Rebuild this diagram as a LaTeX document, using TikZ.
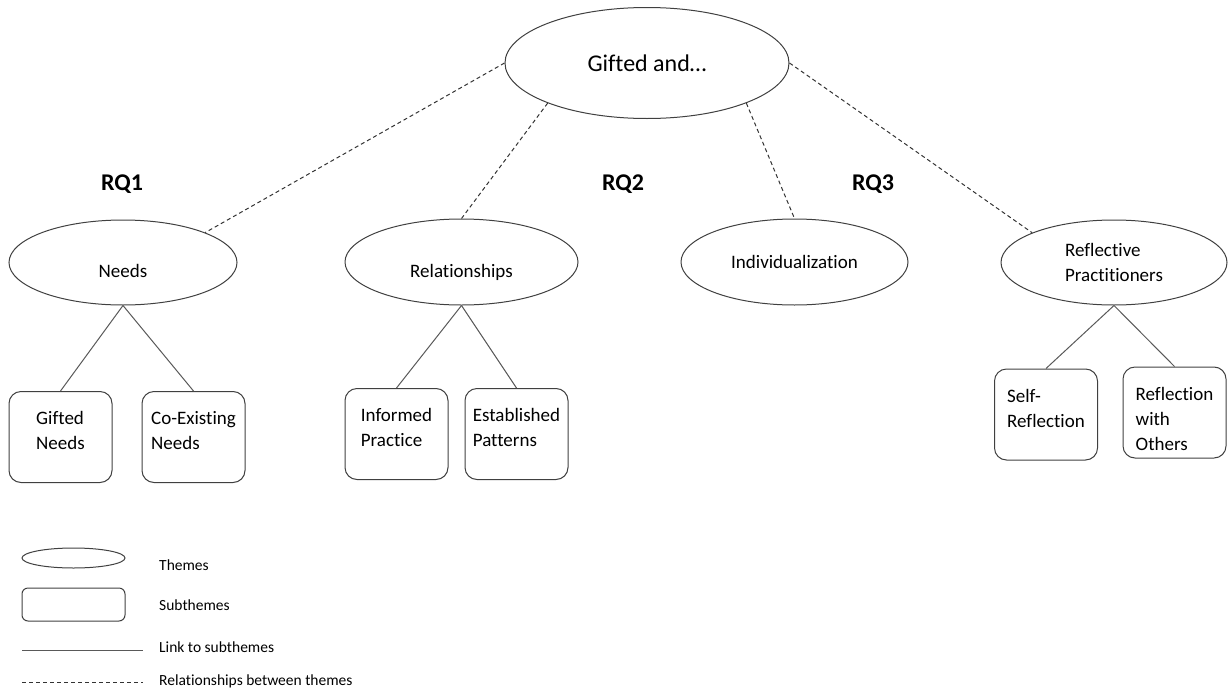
\documentclass[tikz,border=0pt]{standalone}
\usepackage{fontspec}
\setmainfont{Carlito}[Ligatures=NoCommon]
\usetikzlibrary{shapes}

\begin{document}
\begin{tikzpicture}[x=1pt,y=-1pt,
	theme/.style={ellipse,draw=black!75,line width=1pt,inner sep=2pt,font=\fontsize{19}{25}\selectfont},
	subtheme/.style={rectangle,rounded corners=12pt,draw=black!75,line width=1pt,minimum width=103pt,minimum height=91pt,inner sep=0pt,text height=33pt,text depth=58pt,font=\fontsize{19}{25}\selectfont},
	sublink/.style={draw=black!65,line width=1pt},
	themelink/.style={draw=black!80,line width=1pt,dash pattern=on 4pt off 3pt},
	rq/.style={anchor=base,font=\fontsize{24}{29}\selectfont\bfseries},
	legendtext/.style={anchor=base west,inner sep=0pt,font=\fontsize{15.5}{19}\selectfont}]
	\useasboundingbox (0,0) rectangle (1228,696);

	\node[theme,minimum width=284pt,minimum height=111pt,font=\fontsize{24}{29}\selectfont] (gifted) at (647,63) {Gifted and…};
	\node[theme,minimum width=228pt,minimum height=85pt,text height=30pt,text depth=0pt] (needs) at (123,262.5) {Needs};
	\node[theme,minimum width=233pt,minimum height=86pt,text height=30pt,text depth=0pt] (relations) at (461.5,262) {Relationships};
	\node[theme,minimum width=227pt,minimum height=86pt] (individ) at (794.5,262) {Individualization};
	\node[theme,minimum width=226pt,minimum height=85pt,align=left] (reflective) at (1114,262.5) {Reflective\\Practitioners};

	\node[rq] (rqone) at (122,190) {RQ1};
	\node[rq] (rqtwo) at (623,190) {RQ2};
	\node[rq] (rqthree) at (873,190) {RQ3};

	\node[subtheme] (giftedneeds) at (60.5,437) {\begin{tabular}[t]{@{}l@{}}Gifted\\Needs\end{tabular}};
	\node[subtheme] (coexisting) at (193.5,437) {\begin{tabular}[t]{@{}l@{}}Co-Existing\\Needs\end{tabular}};
	\node[subtheme] (informed) at (396.5,434) {\begin{tabular}[t]{@{}l@{}}Informed\\Practice\end{tabular}};
	\node[subtheme] (established) at (516.5,434) {\begin{tabular}[t]{@{}l@{}}Established\\Patterns\end{tabular}};
	\node[subtheme] (selfrefl) at (1046,414.5) {\begin{tabular}[t]{@{}l@{}}Self-\\Reflection\end{tabular}};
	\node[subtheme] (withothers) at (1174.5,412.5) {\begin{tabular}[t]{@{}l@{}}Reflection\\with\\Others\end{tabular}};

	\path[themelink]
	(gifted.west) edge (needs.20)
	(gifted.202) edge (relations.north)
	(gifted.338) edge (individ.north)
	(gifted.east) edge (reflective.160)
	;
	\path[sublink]
	(needs.south) edge (giftedneeds.north)
	(needs.south) edge (coexisting.north)
	(relations.south) edge (informed.north)
	(relations.south) edge (established.north)
	(reflective.south) edge (selfrefl.north)
	(reflective.south) edge (withothers.north)
	;

	\node[theme,minimum width=103pt,minimum height=20pt,inner sep=0pt] (legtheme) at (73.5,558) {};
	\node[subtheme,minimum height=33pt,rounded corners=6pt,text height=0pt,text depth=0pt] (legsub) at (73.5,604.5) {};
	\coordinate (legsolidA) at (22,650);
	\coordinate (legsolidB) at (143,650);
	\coordinate (legdashA) at (22,682);
	\coordinate (legdashB) at (143,682);
	\path
	(legsolidA) edge[sublink] (legsolidB)
	(legdashA) edge[themelink] (legdashB)
	;
	\node[legendtext] (legthemetxt) at (159,570) {Themes};
	\node[legendtext] (legsubtxt) at (159,610) {Subthemes};
	\node[legendtext] (legsolidtxt) at (159,652) {Link to subthemes};
	\node[legendtext] (legdashtxt) at (159,685) {Relationships between themes};
\end{tikzpicture}
\end{document}
